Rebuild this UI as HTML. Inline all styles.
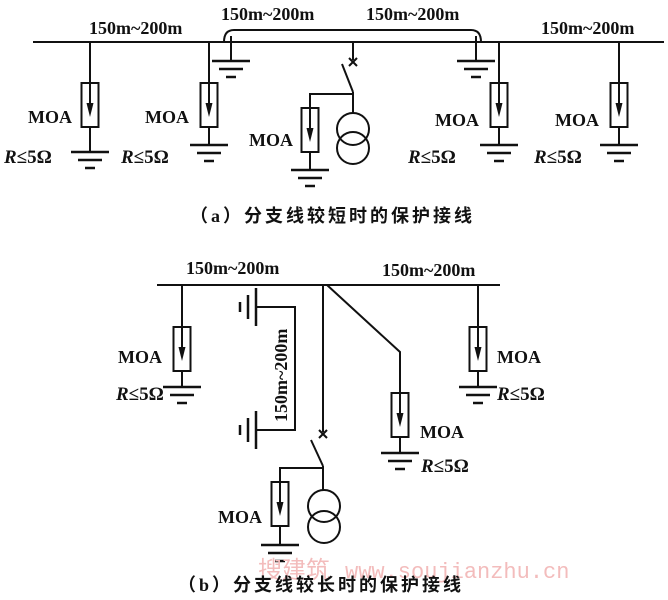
<!DOCTYPE html>
<html><head><meta charset="utf-8"><style>
html,body{margin:0;padding:0;background:#fff;}
svg{display:block;}
text{font-family:"Liberation Serif","Noto Serif CJK SC",serif;fill:#111;}
.cn{font-family:"Liberation Serif","Noto Sans CJK SC",sans-serif;font-weight:bold;}
.r{font-size:19px;}
</style></head><body>
<svg width="668" height="600" viewBox="0 0 668 600" xmlns="http://www.w3.org/2000/svg">
<defs>
<g id="arr">
 <rect x="-8.5" y="0" width="17" height="44" fill="#fff" stroke="#111" stroke-width="2"/>
 <line x1="0" y1="0" x2="0" y2="22" stroke="#111" stroke-width="2"/>
 <polygon points="-3.5,20 3.5,20 0,34" fill="#111"/>
</g>
<g id="gnd" stroke="#111" stroke-width="2.5">
 <line x1="-19" y1="0" x2="19" y2="0"/>
 <line x1="-12" y1="8" x2="12" y2="8"/>
 <line x1="-5" y1="16" x2="5" y2="16"/>
</g>
<g id="gndv" stroke="#111" stroke-width="2.5">
 <line x1="0" y1="-19" x2="0" y2="19"/>
 <line x1="-8" y1="-12" x2="-8" y2="12"/>
 <line x1="-16" y1="-5" x2="-16" y2="5"/>
</g>
</defs>
<g stroke="#111" stroke-width="2" fill="none">
<line x1="33" y1="42" x2="664" y2="42"/>
<path d="M224,42 Q224,30 234,30 L471,30 Q481,30 481,42"/>
<line x1="231" y1="36" x2="231" y2="61"/>
<line x1="476" y1="36" x2="476" y2="61"/>
<line x1="90" y1="42" x2="90" y2="83"/><line x1="90" y1="127" x2="90" y2="152"/>
<line x1="209" y1="42" x2="209" y2="83"/><line x1="209" y1="127" x2="209" y2="145"/>
<line x1="499" y1="42" x2="499" y2="83"/><line x1="499" y1="127" x2="499" y2="145"/>
<line x1="619" y1="42" x2="619" y2="83"/><line x1="619" y1="127" x2="619" y2="145"/>
<line x1="353" y1="42" x2="353" y2="60"/>
<line x1="349" y1="58" x2="357" y2="66"/><line x1="357" y1="58" x2="349" y2="66"/>
<line x1="342" y1="64" x2="353" y2="92"/>
<line x1="353" y1="92" x2="353" y2="113"/>
<path d="M353,94 L310,94 L310,108"/>
<line x1="310" y1="152" x2="310" y2="170"/>
<circle cx="353" cy="129" r="16"/><circle cx="353" cy="148" r="16"/>
<line x1="157" y1="285" x2="500" y2="285"/>
<line x1="182" y1="285" x2="182" y2="327"/><line x1="182" y1="371" x2="182" y2="387"/>
<line x1="478" y1="285" x2="478" y2="327"/><line x1="478" y1="371" x2="478" y2="387"/>
<path d="M327,285 L400,352 L400,393"/><line x1="400" y1="437" x2="400" y2="453"/>
<path d="M256,307 L295,307 L295,430 L256,430"/>
<line x1="323" y1="285" x2="323" y2="432"/>
<line x1="319" y1="430" x2="327" y2="438"/><line x1="327" y1="430" x2="319" y2="438"/>
<line x1="311" y1="440" x2="323" y2="466"/>
<line x1="323" y1="466" x2="323" y2="490"/>
<path d="M323,468 L280,468 L280,482"/>
<line x1="280" y1="526" x2="280" y2="545"/>
<circle cx="324" cy="506" r="16"/><circle cx="324" cy="527" r="16"/>
</g>
<use href="#arr" x="90" y="83"/><use href="#arr" x="209" y="83"/>
<use href="#arr" x="499" y="83"/><use href="#arr" x="619" y="83"/>
<use href="#arr" x="310" y="108"/>
<use href="#arr" x="182" y="327"/><use href="#arr" x="478" y="327"/>
<use href="#arr" x="400" y="393"/><use href="#arr" x="280" y="482"/>
<use href="#gnd" x="231" y="61"/><use href="#gnd" x="476" y="61"/>
<use href="#gnd" x="90" y="152"/><use href="#gnd" x="209" y="145"/>
<use href="#gnd" x="499" y="145"/><use href="#gnd" x="619" y="145"/>
<use href="#gnd" x="310" y="170"/>
<use href="#gnd" x="182" y="387"/><use href="#gnd" x="478" y="387"/>
<use href="#gnd" x="400" y="453"/><use href="#gnd" x="280" y="545"/>
<use href="#gndv" x="256" y="307"/><use href="#gndv" x="256" y="430"/>
<g font-size="18" font-weight="bold">
<text x="89" y="34">150m~200m</text>
<text x="221" y="20">150m~200m</text>
<text x="366" y="20">150m~200m</text>
<text x="541" y="34">150m~200m</text>
<text x="28" y="123">MOA</text>
<text x="145" y="123">MOA</text>
<text x="249" y="146">MOA</text>
<text x="435" y="126">MOA</text>
<text x="555" y="126">MOA</text>
<text class="r" x="4" y="163"><tspan font-style="italic">R</tspan>≤5Ω</text>
<text class="r" x="121" y="163"><tspan font-style="italic">R</tspan>≤5Ω</text>
<text class="r" x="408" y="163"><tspan font-style="italic">R</tspan>≤5Ω</text>
<text class="r" x="534" y="163"><tspan font-style="italic">R</tspan>≤5Ω</text>
<text x="186" y="274">150m~200m</text>
<text x="382" y="276">150m~200m</text>
<text x="118" y="363">MOA</text>
<text x="497" y="363">MOA</text>
<text x="420" y="438">MOA</text>
<text x="218" y="523">MOA</text>
<text class="r" x="116" y="400"><tspan font-style="italic">R</tspan>≤5Ω</text>
<text class="r" x="497" y="400"><tspan font-style="italic">R</tspan>≤5Ω</text>
<text class="r" x="421" y="472"><tspan font-style="italic">R</tspan>≤5Ω</text>
<text transform="translate(287,422) rotate(-90)">150m~200m</text>
</g>
<text x="258" y="578" font-size="24" style="fill:#f3bcbc;font-family:'Liberation Sans','Noto Sans CJK SC',sans-serif">搜建筑</text>
<text x="345" y="578" font-size="22" style="fill:#f3bcbc;font-family:'Liberation Mono',monospace">www.soujianzhu.cn</text>
<text class="cn" x="190" y="222" font-size="18" letter-spacing="3">（a）分支线较短时的保护接线</text>
<text class="cn" x="178" y="591" font-size="18" letter-spacing="3">（b）分支线较长时的保护接线</text>
</svg>
</body></html>
